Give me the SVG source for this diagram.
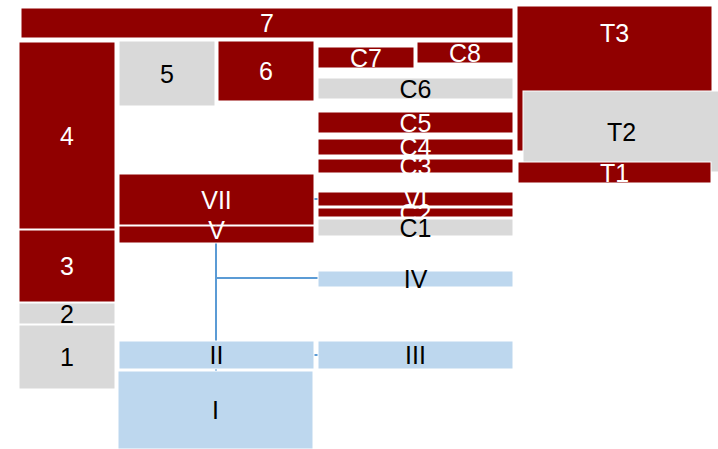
<svg xmlns="http://www.w3.org/2000/svg" width="718" height="449" viewBox="0 0 718 449">
<style>
rect{stroke:#fff;stroke-width:1}
.r{fill:#900000}
.g{fill:#d9d9d9}
.b{fill:#bdd7ee}
text{font-family:"Liberation Sans",Arial,sans-serif;font-size:25px;text-anchor:middle}
.w{fill:#fff}
.k{fill:#000}
#connectors path{fill:none;stroke:#5b9bd5;stroke-width:2}
</style>
<rect x="0" y="0" width="718" height="449" fill="#fff" style="stroke:none"/>
<g id="connectors">
<path d="M314,199H318"/>
<path d="M216,199V372"/>
<path d="M216,278H318"/>
<path d="M314,355H318"/>
</g>
<g id="n7"><rect class="r" x="21" y="8" width="492" height="30"/><text class="w" x="267" y="32">7</text></g>
<g id="n4"><rect class="r" x="19" y="42" width="96" height="187"/><text class="w" x="67" y="145">4</text></g>
<g id="n3"><rect class="r" x="19" y="230" width="96" height="72"/><text class="w" x="67" y="275">3</text></g>
<g id="n2"><rect class="g" x="19" y="303" width="96" height="21"/><text class="k" x="67" y="322.5">2</text></g>
<g id="n1"><rect class="g" x="19" y="325" width="96" height="64"/><text class="k" x="67" y="366">1</text></g>
<g id="n5"><rect class="g" x="119" y="41" width="96" height="65"/><text class="k" x="167" y="83">5</text></g>
<g id="n6"><rect class="r" x="218" y="41" width="96" height="60"/><text class="w" x="266" y="80">6</text></g>
<g id="C7"><rect class="r" x="318" y="47" width="96" height="21"/><text class="w" x="366" y="66.5">C7</text></g>
<g id="C8"><rect class="r" x="417" y="42" width="96" height="21"/><text class="w" x="465" y="61.5">C8</text></g>
<g id="C6"><rect class="g" x="318" y="78" width="195" height="21"/><text class="k" x="415.5" y="97.5">C6</text></g>
<g id="C5"><rect class="r" x="318" y="112" width="195" height="21"/><text class="w" x="415.5" y="131.5">C5</text></g>
<g id="C4"><rect class="r" x="318" y="139" width="195" height="16"/><text class="w" x="415.5" y="156">C4</text></g>
<g id="C3"><rect class="r" x="318" y="159" width="195" height="14"/><text class="w" x="415.5" y="175">C3</text></g>
<g id="VI"><rect class="r" x="318" y="192" width="195" height="14"/><text class="w" x="415.5" y="208">VI</text></g>
<g id="C2"><rect class="r" x="318" y="208" width="195" height="9"/><text class="w" x="415.5" y="221.5">C2</text></g>
<g id="C1"><rect class="g" x="318" y="219" width="195" height="17"/><text class="k" x="415.5" y="236.5">C1</text></g>
<g id="T3"><rect class="r" x="517" y="6" width="195" height="145"/><text class="w" x="614.5" y="42">T3</text></g>
<g id="T2"><rect class="g" x="523" y="91" width="197" height="81"/><text class="k" x="621.5" y="141">T2</text></g>
<g id="T1"><rect class="r" x="518" y="162" width="193" height="21"/><text class="w" x="614.5" y="181.5">T1</text></g>
<g id="VII"><rect class="r" x="119" y="174" width="195" height="51"/><text class="w" x="216.5" y="208.5">VII</text></g>
<g id="V"><rect class="r" x="119" y="226" width="195" height="17"/><text class="w" x="216.5" y="238.5">V</text></g>
<g id="IV"><rect class="b" x="318" y="271" width="195" height="16"/><text class="k" x="415.5" y="287.5">IV</text></g>
<g id="III"><rect class="b" x="318" y="341" width="195" height="28"/><text class="k" x="415.5" y="364">III</text></g>
<g id="II"><rect class="b" x="119" y="341" width="195" height="28"/><text class="k" x="216.5" y="364">II</text></g>
<g id="I"><rect class="b" x="118" y="371" width="195" height="78"/><text class="k" x="215.5" y="419">I</text></g>
</svg>
